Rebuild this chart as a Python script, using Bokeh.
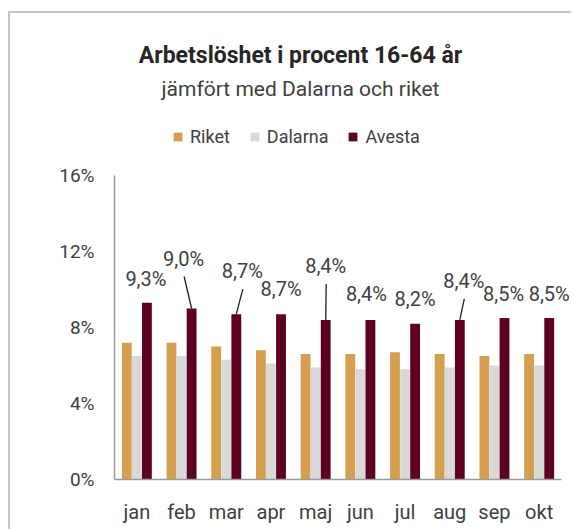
from bokeh.plotting import figure
from bokeh.models import (ColumnDataSource, Range1d, FixedTicker,
                          Legend, LegendItem, Label, LabelSet)
from bokeh.core.properties import value
from bokeh.embed import file_html
from bokeh.resources import INLINE

# ---- data ----
months = ["jan", "feb", "mar", "apr", "maj", "jun", "jul", "aug", "sep", "okt"]
riket = [7.2, 7.2, 7.0, 6.8, 6.6, 6.6, 6.7, 6.6, 6.5, 6.6]
dalarna = [6.5, 6.5, 6.3, 6.1, 5.9, 5.8, 5.8, 5.9, 6.0, 6.0]
avesta = [9.3, 9.0, 8.7, 8.7, 8.4, 8.4, 8.2, 8.4, 8.5, 8.5]
y_ticks = [0, 4, 8, 12, 16]
y_tick_labels = ["0%", "4%", "8%", "12%", "16%"]
title_text = "Arbetslöshet i procent 16-64 år"
subtitle_text = "jämfört med Dalarna och riket"

# ---- label layout (pixel offsets of Avesta value labels, screen px, + = down) ----
label_dx = [-1, -8, 6, 0, 0, -4, 0, 4, -1, 0]
label_dy = [-24, -50, -43, -25, -54, -26, -25, -39, -24, -24]
leader = [False, True, True, False, True, False, False, True, False, False]

FONT = "Roboto"
TXT = "#404040"
C_RIKET = "#D49F4E"
C_DAL = "#D9D9D9"
C_AVE = "#5E0021"

W, H = 563, 518
ML, MR, MT, MB = 104, 0, 0, 52
PX_UNIT = 19.0     # pixels per percentage point
PX_CAT = 44.7      # pixels per month slot
frame_w = W - ML - MR
frame_h = H - MT - MB

xi = list(range(len(months)))
src = ColumnDataSource(dict(
    xi=xi, month=months, riket=riket, dalarna=dalarna, avesta=avesta,
    label=[("%.1f" % v).replace(".", ",") + "%" for v in avesta],
    dx=label_dx, up=[-d for d in label_dy],
))

p = figure(x_range=Range1d(-0.5, -0.5 + frame_w / PX_CAT),
           y_range=Range1d(0, frame_h / PX_UNIT),
           width=W, height=H, output_backend="svg", toolbar_location=None,
           min_border_left=ML, min_border_right=MR, min_border_top=MT,
           min_border_bottom=MB)
p.styles = {"margin-left": "8px", "margin-top": "11px",
            "border-left": "2px solid #C4C4C4", "border-top": "2px solid #C4C4C4"}

off = 0.225
bw = 0.22
src.data["x_r"] = [x - off for x in xi]
src.data["x_a"] = [x + off for x in xi]
r1 = p.vbar(x="x_r", top="riket", width=bw, source=src,
            fill_color=C_RIKET, line_color=None)
r2 = p.vbar(x="xi", top="dalarna", width=bw, source=src,
            fill_color=C_DAL, line_color=None)
r3 = p.vbar(x="x_a", top="avesta", width=bw, source=src,
            fill_color=C_AVE, line_color=None)

# value labels
labels = LabelSet(x="x_a", y="avesta", text="label",
                  x_offset="dx", y_offset="up", source=src,
                  text_align="center", text_baseline="middle",
                  text_font=value(FONT), text_font_size="20px", text_color=TXT)
p.add_layout(labels)

# leader lines
lx0, ly0, lx1, ly1 = [], [], [], []
for x, v, dx, dy, on in zip(xi, avesta, label_dx, label_dy, leader):
    if on:
        lx0.append(x + off)
        ly0.append(v)
        lx1.append(x + off + (dx + 0.5) / PX_CAT)
        ly1.append(v - (dy + 18) / PX_UNIT)
p.segment(x0=lx0, y0=ly0, x1=lx1, y1=ly1, line_color="#202020", line_width=1.3)

# axes
p.xgrid.visible = False
p.ygrid.visible = False
p.outline_line_color = None
for ax in (p.xaxis[0], p.yaxis[0]):
    ax.axis_line_color = "#9A9A9A"
    ax.axis_line_width = 1.5
    ax.major_tick_line_color = None
    ax.minor_tick_line_color = None
    ax.major_tick_in = 0
    ax.major_tick_out = 0
    ax.minor_tick_in = 0
    ax.minor_tick_out = 0
    ax.major_label_text_font = FONT
    ax.major_label_text_color = TXT
p.yaxis.ticker = FixedTicker(ticks=y_ticks)
p.yaxis.bounds = (y_ticks[0], y_ticks[-1])
p.yaxis.major_label_overrides = {t: l for t, l in zip(y_ticks, y_tick_labels)}
p.yaxis.major_label_text_font_size = "19px"
p.yaxis.major_label_standoff = 20
p.xaxis.ticker = FixedTicker(ticks=xi)
p.xaxis.bounds = (-0.5, len(months) - 0.5)
p.xaxis.major_label_overrides = {x: m for x, m in zip(xi, months)}
p.xaxis.major_label_text_font_size = "20px"
p.xaxis.major_label_standoff = 20

legend = Legend(items=[LegendItem(label="Riket", renderers=[r1]),
                       LegendItem(label="Dalarna", renderers=[r2]),
                       LegendItem(label="Avesta", renderers=[r3])],
                orientation="horizontal", location=(58, 332),
                glyph_width=11, glyph_height=11, label_standoff=7, spacing=19,
                padding=0, margin=0, border_line_color=None,
                background_fill_alpha=0, label_text_font=FONT,
                label_text_font_size="18px", label_text_color=TXT)
p.add_layout(legend)

p.add_layout(Label(x=186, y=424, x_units="screen", y_units="screen",
                   text=title_text, text_align="center", text_baseline="alphabetic",
                   text_font=FONT, text_font_size="23px", text_font_style="bold",
                   text_color="#262626"))
p.add_layout(Label(x=186, y=391, x_units="screen", y_units="screen",
                   text=subtitle_text, text_align="center", text_baseline="alphabetic",
                   text_font=FONT, text_font_size="21px", text_color=TXT))

open("out.html", "w").write(file_html(p, INLINE))
